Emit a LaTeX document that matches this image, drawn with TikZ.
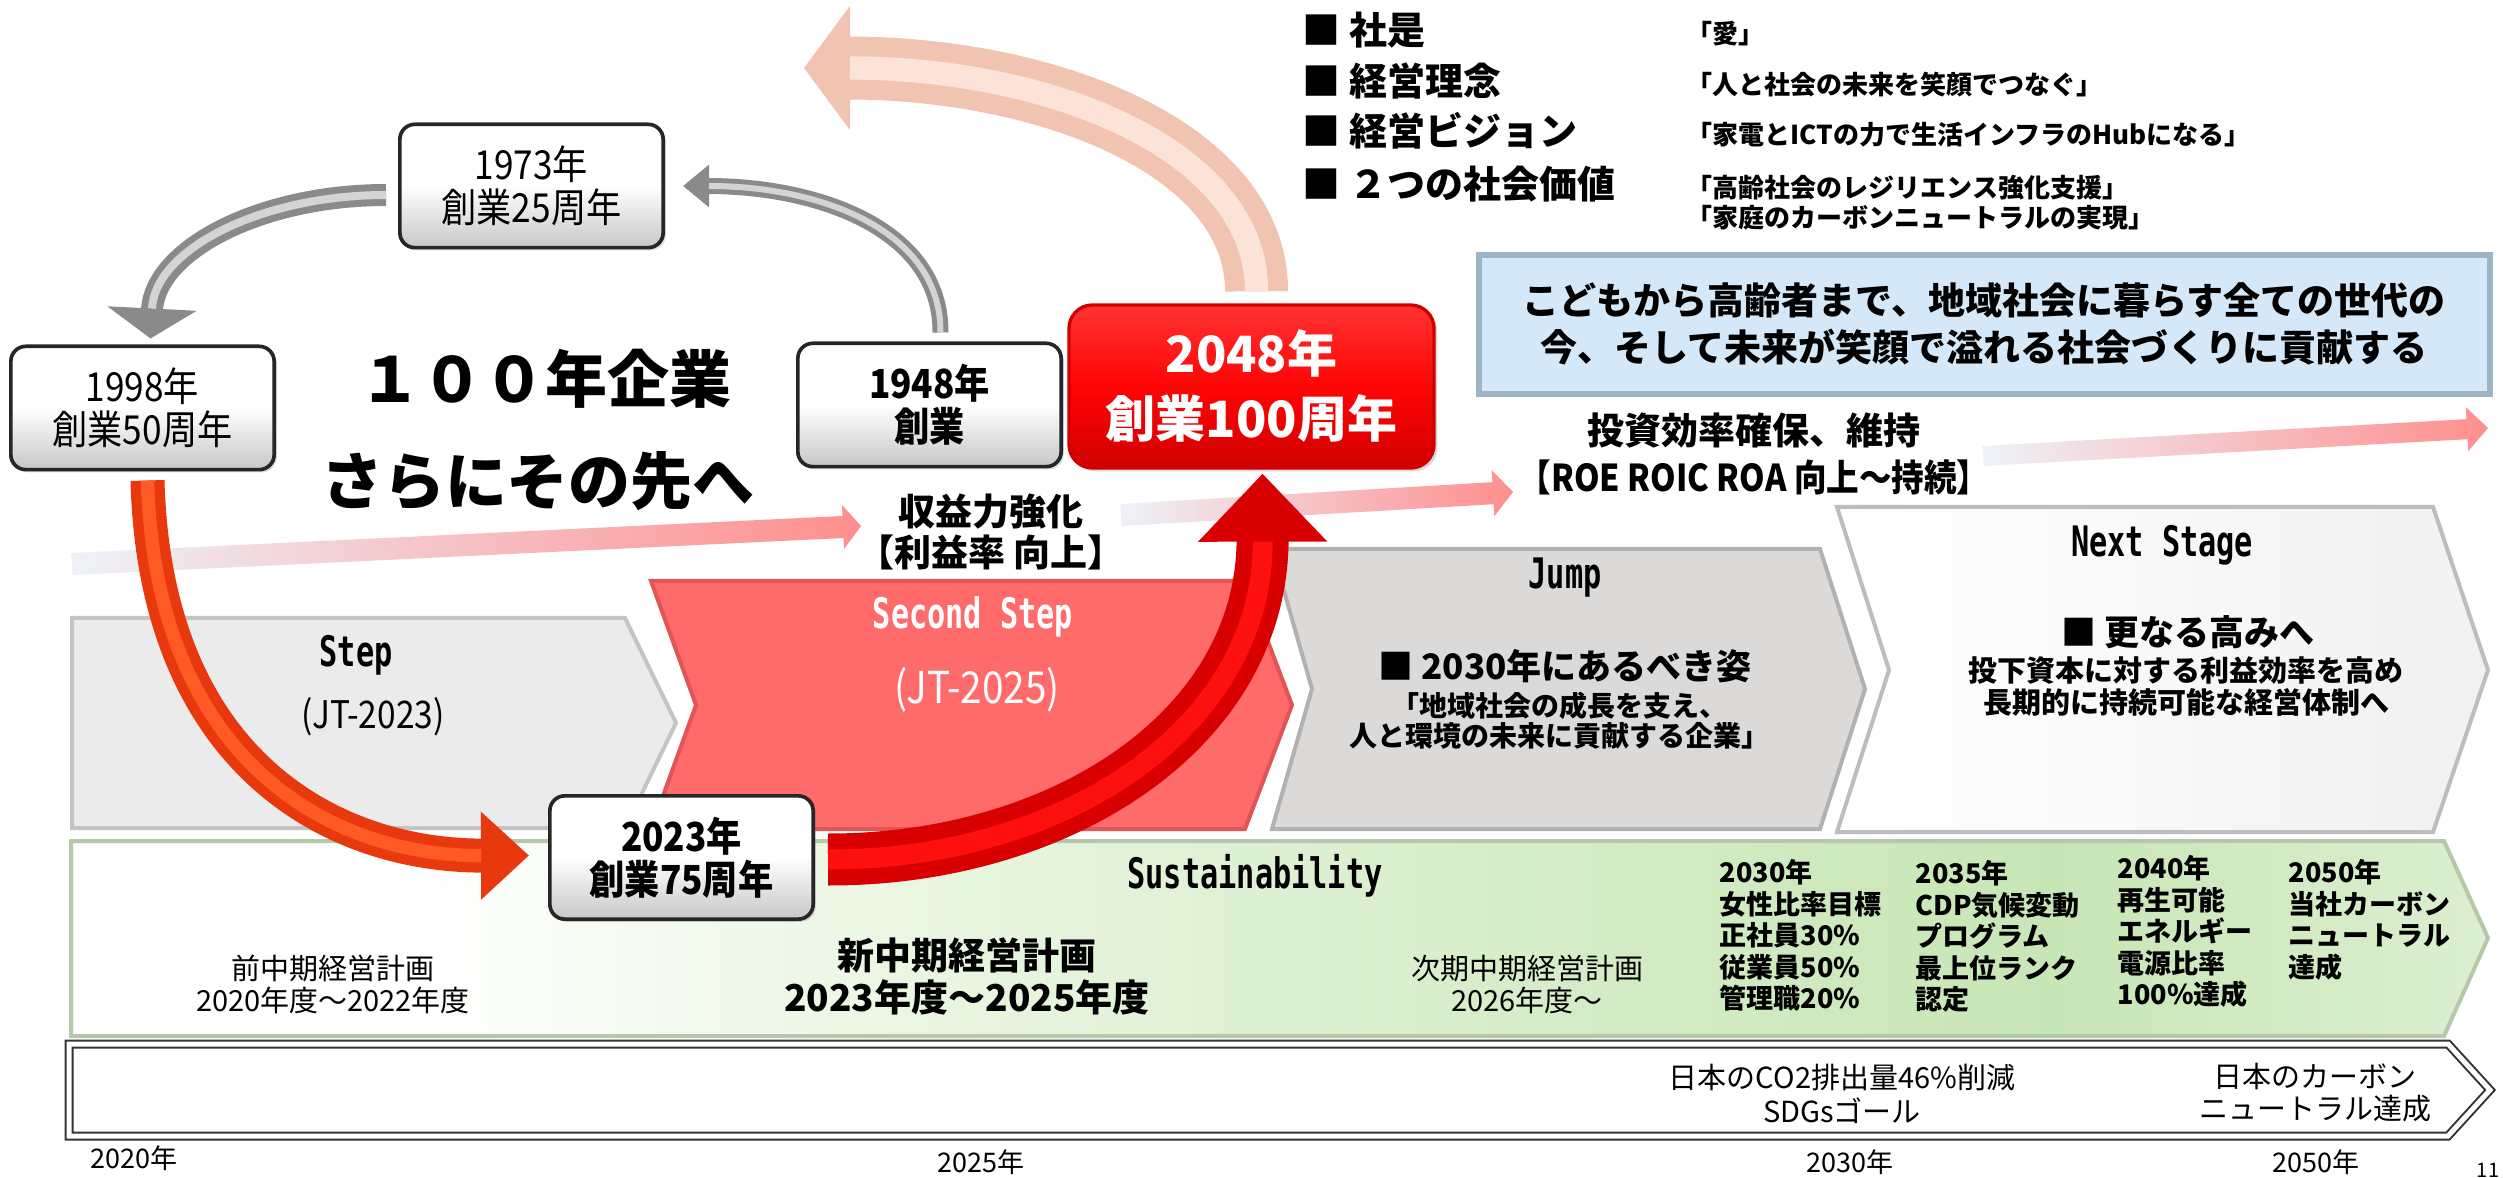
\documentclass[tikz,border=0pt]{standalone}
\usepackage{fontspec}
\setmainfont{Noto Sans CJK JP}
\newfontfamily\jpc[FakeStretch=0.88]{Noto Sans CJK JP}
\newfontfamily\monoc[FakeStretch=0.72]{DejaVu Sans Mono}
\usetikzlibrary{arrows.meta,calc,shadows}
\definecolor{stepgray}{HTML}{EBEBEB}
\definecolor{stepedge}{HTML}{C4C4C4}
\definecolor{secred}{HTML}{FF6B6B}
\definecolor{secedge}{HTML}{E25555}
\definecolor{jumpgray}{HTML}{DCD9D9}
\definecolor{jumpedge}{HTML}{B3B0B0}
\definecolor{nextfill}{HTML}{F1F1F1}
\definecolor{nextedge}{HTML}{BDBDBD}
\definecolor{sg1}{HTML}{EAF6E2}
\definecolor{sg2}{HTML}{D6EDC9}
\definecolor{sg3}{HTML}{C7E6B6}
\definecolor{sg4}{HTML}{DCEFD1}
\definecolor{sustedge}{HTML}{B5C9AA}
\definecolor{bluefill}{HTML}{D5E8F7}
\definecolor{blueedge}{HTML}{9CB4C8}
\definecolor{pinkA}{HTML}{EEF2F8}
\definecolor{pinkB}{HTML}{FF8E8E}
\definecolor{redtop}{HTML}{FF3333}
\definecolor{redbox}{HTML}{FF0505}
\definecolor{redboxdark}{HTML}{D00000}
\definecolor{grayarr}{HTML}{8A8A8A}
\definecolor{grayhl}{HTML}{D4D4D4}
\definecolor{orgarr}{HTML}{E8380E}
\definecolor{orghl}{HTML}{FF5A26}
\definecolor{redarr}{HTML}{D80000}
\definecolor{redhl}{HTML}{FF1010}
\definecolor{palearr}{HTML}{F1C4B2}
\definecolor{palehl}{HTML}{FBE3DA}
\pgfdeclarehorizontalshading{sustshade}{100bp}{color(0bp)=(white); color(32bp)=(white); color(42bp)=(sg1); color(55bp)=(sg2); color(66bp)=(sg3); color(75bp)=(sg4); color(100bp)=(sg4)}
\tikzset{
  yearbox/.style={draw=black!85, line width=1.1pt, rounded corners=4.5pt, top color=white, bottom color=black!22, middle color=white, minimum width=79pt, minimum height=37pt, inner sep=0pt, align=center, font=\jpc\fontsize{12}{12.9}\selectfont, drop shadow={opacity=0.25, shadow xshift=0.8pt, shadow yshift=-0.8pt}},
  redboxst/.style={draw=redboxdark, line width=1pt, rounded corners=7pt, top color=redtop, bottom color=redboxdark, middle color=redbox, text=white, minimum width=109.5pt, minimum height=48.9pt, inner sep=0pt, align=center, font=\bfseries\fontsize{15}{19.5}\selectfont, drop shadow={opacity=0.3, shadow xshift=1pt, shadow yshift=-1pt}},
  lbl/.style={inner sep=0pt, align=center},
  mono/.style={inner sep=0pt, font=\monoc\bfseries\fontsize{12.6}{14}\selectfont},
  bul/.style={anchor=west, inner sep=0pt, font=\bfseries\fontsize{11.4}{12}\selectfont},
  bulr/.style={anchor=west, inner sep=0pt, font=\bfseries\fontsize{7.8}{9}\selectfont},
  col/.style={anchor=north west, inner sep=0pt, align=left, font=\bfseries\fontsize{8.1}{9.45}\selectfont},
  yr/.style={inner sep=0pt, font=\fontsize{8.1}{9}\selectfont},
}
\begin{document}
\begin{tikzpicture}[x=0.3pt, y=-0.3pt]
\useasboundingbox (0,0) rectangle (2503,1178);
\fill[white] (0,0) rectangle (2503,1178);

% trend arrows
\shade[left color=pinkA, right color=pinkB] (72.5,575) -- (843.5,538) -- (844,549) -- (861,526) -- (842,505) -- (842.5,516) -- (71.5,553) -- cycle;
\shade[left color=pinkA, right color=pinkB] (1121.6,526) -- (1493.6,504.2) -- (1494.3,516.2) -- (1513,492) -- (1491.7,470.2) -- (1492.4,482.2) -- (1120.4,504) -- cycle;
\shade[left color=pinkA, right color=pinkB] (1983.6,466) -- (2467.6,439.2) -- (2468.2,451.2) -- (2488,428) -- (2465.8,407.2) -- (2466.4,419.2) -- (1982.4,446) -- cycle;

% chevrons
\filldraw[fill=stepgray, draw=stepedge, line width=1.2pt] (72,618) -- (625,618) -- (676,723) -- (625,828) -- (72,828) -- cycle;
\filldraw[fill=secred, draw=secedge, line width=1.2pt] (651,581) -- (1245,581) -- (1292,705) -- (1245,829) -- (651,829) -- (696,705) -- cycle;
\filldraw[fill=jumpgray, draw=jumpedge, line width=1.2pt] (1272,549) -- (1820,549) -- (1865,689) -- (1820,829) -- (1272,829) -- (1312,689) -- cycle;
\shade[left color=white, right color=nextfill, draw=nextedge, line width=1.2pt] (1837,507) -- (2433,507) -- (2488,670) -- (2433,832) -- (1837,832) -- (1889,670) -- cycle;

% sustainability band
\shade[shading=sustshade, draw=sustedge, line width=1.2pt] (71,841) -- (2444,841) -- (2488,938) -- (2444,1036) -- (71,1036) -- cycle;

% timeline
\draw[draw=black!80, line width=0.6pt, double=white, double distance=1.5pt, fill=white] (69,1044) -- (2448,1044) -- (2490,1090) -- (2448,1136) -- (69,1136) -- cycle;

% blue box
\filldraw[fill=bluefill, draw=blueedge, line width=2pt] (1479,255) rectangle (2490,394);
\node[lbl, font=\bfseries\fontsize{11.1}{14.1}\selectfont] (mission) at (1984,323.5) {こどもから高齢者まで、地域社会に暮らす全ての世代の\\今、そして未来が笑顔で溢れる社会づくりに貢献する};

% chevron labels
\node[mono] (lstep) at (356,655) {Step};
\node[lbl, font=\jpc\fontsize{11.4}{12}\selectfont] (ljt23) at (373,717) {(JT-2023)};
\node[mono, text=white] (lsec) at (973,617) {Second Step};
\node[lbl, text=white, font=\jpc\fontsize{13.2}{14}\selectfont] (ljt25) at (977,690) {(JT-2025)};
\node[mono] (ljump) at (1565,578) {Jump};
\node[lbl, font=\bfseries\fontsize{10.5}{12}\selectfont] (j1) at (1565,666) {■ 2030年にあるべき姿};
\node[lbl, font=\bfseries\fontsize{8.4}{9}\selectfont] (j2) at (1559,721) {「地域社会の成長を支え、\\人と環境の未来に貢献する企業」};
\node[mono] (lnext) at (2162,545) {Next Stage};
\node[lbl, font=\bfseries\fontsize{10.5}{12}\selectfont] (n1) at (2188,632) {■ 更なる高みへ};
\node[lbl, font=\bfseries\fontsize{8.7}{9.6}\selectfont] (n2) at (2186,686) {投下資本に対する利益効率を高め\\長期的に持続可能な経営体制へ};

% sustainability texts
\node[mono] (lsus) at (1255,876) {Sustainability};
\node[lbl, font=\fontsize{8.7}{9.6}\selectfont] (p1) at (333,984) {前中期経営計画\\2020年度～2022年度};
\node[lbl, font=\bfseries\fontsize{11.1}{12.6}\selectfont] (p2) at (967,976) {新中期経営計画\\2023年度～2025年度};
\node[lbl, font=\fontsize{8.7}{9.6}\selectfont] (p3) at (1527,984) {次期中期経営計画\\2026年度～};
\node[col] (c1) at (1719,859) {2030年\\女性比率目標\\正社員30\%\\従業員50\%\\管理職20\%};
\node[col] (c2) at (1915,860) {2035年\\CDP気候変動\\プログラム\\最上位ランク\\認定};
\node[col] (c3) at (2117,855) {2040年\\再生可能\\エネルギー\\電源比率\\100\%達成};
\node[col] (c4) at (2288,859) {2050年\\当社カーボン\\ニュートラル\\達成};

% timeline texts
\node[lbl, font=\fontsize{8.7}{10.2}\selectfont] (tl1) at (1842,1094) {日本のCO2排出量46\%削減\\SDGsゴール};
\node[lbl, font=\fontsize{8.7}{9.6}\selectfont] (tl2) at (2315,1093) {日本のカーボン\\ニュートラル達成};
\node[yr] (y2020) at (134,1158) {2020年};
\node[yr] (y2025) at (981,1162) {2025年};
\node[yr] (y2030) at (1850,1162) {2030年};
\node[yr] (y2050) at (2316,1162) {2050年};
\node[inner sep=0pt, font=\fontsize{6}{7}\selectfont] (pg) at (2488,1170) {11};

% top texts
\node[bul] (m1) at (1302,30) {■ 社是};
\node[bul] (m2) at (1302,81) {■ 経営理念};
\node[bul] (m3) at (1302,131) {■ 経営ビジョン};
\node[bul] (m4) at (1302,184) {■ ２つの社会価値};
\node[bulr] (v1) at (1686,34) {「愛」};
\node[bulr] (v2) at (1686,85) {「人と社会の未来を笑顔でつなぐ」};
\node[bulr] (v3) at (1686,135) {「家電とICTの力で生活インフラのHubになる」};
\node[bulr] (v4) at (1686,188) {「高齢社会のレジリエンス強化支援」};
\node[bulr] (v5) at (1686,218) {「家庭のカーボンニュートラルの実現」};

\node[lbl, font=\bfseries\fontsize{11.1}{14.1}\selectfont] (inv) at (1754,453.5) {投資効率確保、維持\\{\jpc 【ROE ROIC ROA 向上～持続】}};
\node[lbl, font=\bfseries\fontsize{11.1}{12.3}\selectfont] (prof) at (991,531.5) {収益力強化\\【利益率 向上】};

% title
\node[lbl, font=\bfseries\fontsize{18.6}{20}\selectfont] (title1) at (545,379) {１００年企業};
\node[lbl, font=\bfseries\fontsize{18.6}{20}\selectfont] (title2) at (538,481) {さらにその先へ};

% year boxes
\node[yearbox] (b1973) at (531.5,186) {1973年\\創業25周年};
\node[yearbox] (b1998) at (142.5,408) {1998年\\創業50周年};
\node[yearbox, font=\jpc\bfseries\fontsize{12}{12.9}\selectfont] (b1948) at (929.5,405) {1948年\\創業};
\node[yearbox, font=\jpc\bfseries\fontsize{12}{12.9}\selectfont] (b2023) at (681.5,857.5) {2023年\\創業75周年};
\node[redboxst] (b2048) at (1251.5,386.5) {2048年\\創業100周年};

% curved arrows
\draw[line width=6.6pt, grayarr, -{Triangle[length=9pt,width=26.4pt]}, postaction={draw=grayhl, line width=2.4pt, -, shorten >=9pt}]
  ($(b1973.west)+(-12,9)$) .. controls (260,195) and (155,250) .. ($(b1998.north)+(8,-6)$);
\draw[line width=4.8pt, grayarr, -{Triangle[length=7.8pt,width=12.3pt]}, postaction={draw=grayhl, line width=1.8pt, -, shorten >=7.8pt}]
  ($(b1948.north)+(11,-9)$) .. controls (941,230) and (820,186) .. ($(b1973.east)+(18,0)$);
\draw[line width=10.2pt, orgarr, -{Triangle[length=14.4pt,width=25.5pt]}, postaction={draw=orghl, line width=4pt, -, shorten >=14.4pt}]
  ($(b1998.south)+(5,9)$) .. controls (155,760) and (330,856) .. ($(b2023.west)+(-19,-2)$);
\draw[line width=15.6pt, redarr, -{Triangle[length=20.4pt,width=37.5pt]}, postaction={draw=redhl, line width=6pt, -, shorten >=20.4pt}]
  ($(b2023.east)+(13,2)$) .. controls (1060,860) and (1263,730) .. ($(b2048.south)+(11,4)$);
\coordinate (paletip) at (804,68);
\draw[line width=18.9pt, palearr, -{Triangle[length=13.8pt,width=36.6pt]}, postaction={draw=palehl, line width=7pt, -, shorten >=13.8pt}]
  ($(b2048.north)+(5,-12)$) .. controls (1257,150) and (1050,68) .. (paletip);
\end{tikzpicture}
\end{document}
